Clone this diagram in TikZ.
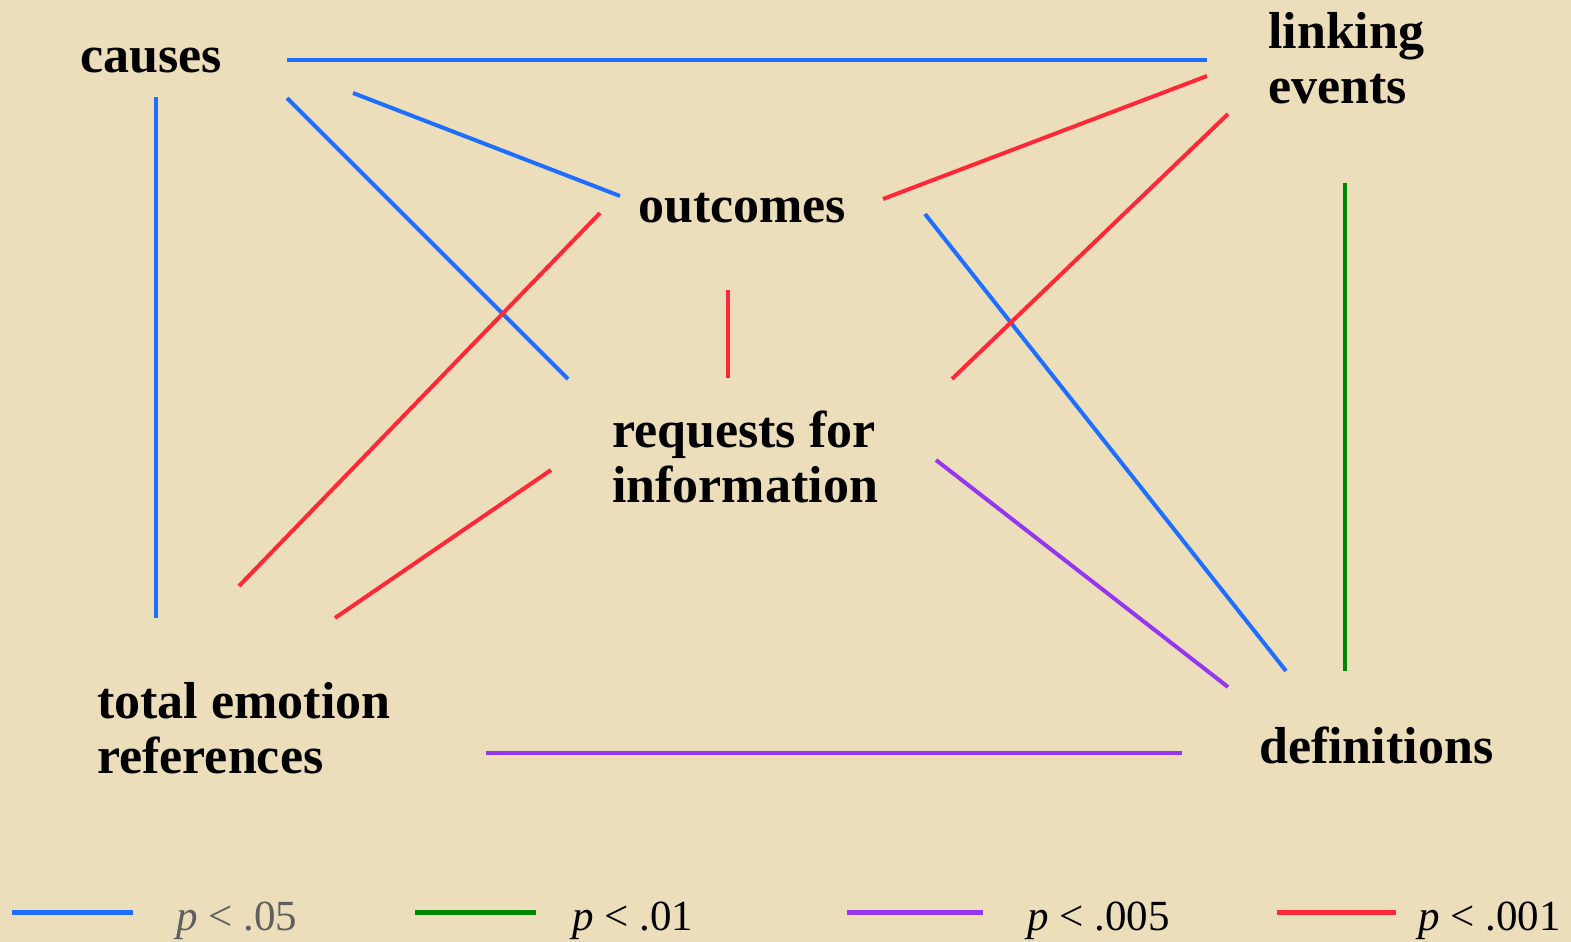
\documentclass[tikz,border=0pt]{standalone}
\usepackage{fontspec}
\setmainfont{Liberation Serif}
\definecolor{paper}{RGB}{236,222,186}
\definecolor{cblue}{RGB}{30,110,255}
\definecolor{cred}{RGB}{255,40,55}
\definecolor{cpurple}{RGB}{150,55,240}
\definecolor{cgreen}{RGB}{0,135,0}
\definecolor{lgray}{RGB}{95,95,95}
\tikzset{
  lbl/.style={font=\fontsize{52}{55}\selectfont\bfseries, anchor=base west, inner sep=0pt, align=left},
  leg/.style={font=\fontsize{43}{43}\selectfont, anchor=base west, inner sep=0pt},
  conn/.style={line width=4pt},
  legline/.style={line width=5pt},
}
\begin{document}
\begin{tikzpicture}[x=1pt,y=-1pt]
\fill[paper] (0,0) rectangle (1571,942);
\useasboundingbox (0,0) rectangle (1571,942);
% labels (base anchor = baseline of last line)
\node[lbl] (causes) at (80,73) {causes};
\node[lbl] (linking) at (1268,103) {linking\\events};
\node[lbl] (outcomes) at (638,222) {outcomes};
\node[lbl] (requests) at (612,502) {requests for\\information};
\node[lbl] (total) at (97,773) {total emotion\\references};
\node[lbl] (defs) at (1259,763) {definitions};
% connector endpoints
\coordinate (cE) at (287,60);
\coordinate (cS) at (156,97);
\coordinate (cSE) at (287,98);
\coordinate (cSE2) at (353,93);
\coordinate (lW) at (1207,60);
\coordinate (lSW) at (1207,76);
\coordinate (lSW2) at (1228,114);
\coordinate (lS) at (1345,183);
\coordinate (oW) at (620,196);
\coordinate (oE) at (883,199);
\coordinate (oSW) at (600,213);
\coordinate (oS) at (728,290);
\coordinate (oSE) at (925,214);
\coordinate (rNW) at (568,379);
\coordinate (rN) at (728,378);
\coordinate (rNE) at (952,379);
\coordinate (rSW) at (551,470);
\coordinate (rSE) at (936,460);
\coordinate (tN) at (156,618);
\coordinate (tNE) at (239,586);
\coordinate (tNE2) at (335,618);
\coordinate (tE) at (486,753);
\coordinate (dW) at (1182,753);
\coordinate (dNW) at (1228,687);
\coordinate (dN) at (1286,671);
\coordinate (dNE) at (1345,671);
% blue
\draw[conn,cblue] (cE) -- (lW);
\draw[conn,cblue] (cS) -- (tN);
\draw[conn,cblue] (cSE) -- (rNW);
\draw[conn,cblue] (cSE2) -- (oW);
\draw[conn,cblue] (oSE) -- (dN);
% red
\draw[conn,cred] (oE) -- (lSW);
\draw[conn,cred] (oSW) -- (tNE);
\draw[conn,cred] (oS) -- (rN);
\draw[conn,cred] (rNE) -- (lSW2);
\draw[conn,cred] (rSW) -- (tNE2);
% purple
\draw[conn,cpurple] (rSE) -- (dNW);
\draw[conn,cpurple] (tE) -- (dW);
% green
\draw[conn,cgreen] (lS) -- (dNE);
% legend
\coordinate (l1a) at (12,912); \coordinate (l1b) at (133,912);
\coordinate (l2a) at (415,912); \coordinate (l2b) at (536,912);
\coordinate (l3a) at (847,912); \coordinate (l3b) at (983,912);
\coordinate (l4a) at (1277,912); \coordinate (l4b) at (1396,912);
\draw[legline,cblue] (l1a) -- (l1b);
\draw[legline,cgreen] (l2a) -- (l2b);
\draw[legline,cpurple] (l3a) -- (l3b);
\draw[legline,cred] (l4a) -- (l4b);
\node[leg,text=lgray] (leg1) at (176,930) {\textit{p} < .05};
\node[leg] (leg2) at (572,930) {\textit{p} < .01};
\node[leg] (leg3) at (1027,930) {\textit{p} < .005};
\node[leg] (leg4) at (1418,930) {\textit{p} < .001};
\end{tikzpicture}
\end{document}
